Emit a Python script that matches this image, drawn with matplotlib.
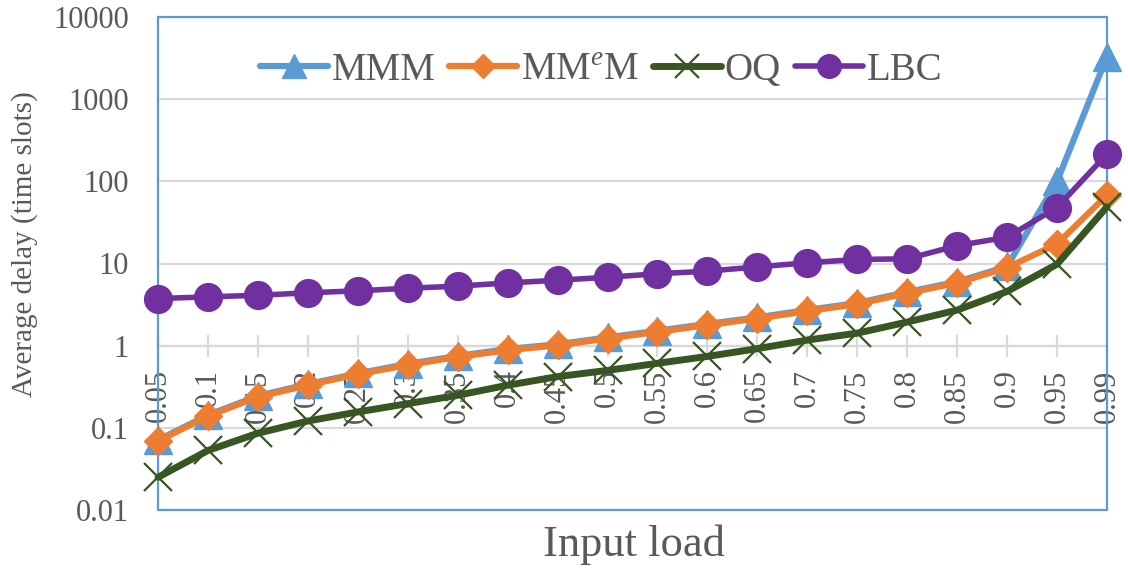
import numpy as np
import matplotlib
matplotlib.use("Agg")
import matplotlib.pyplot as plt
from matplotlib.patches import Rectangle

# ---- data ----
loads = ['0.05', '0.1', '0.15', '0.2', '0.25', '0.3', '0.35', '0.4', '0.45', '0.5',
         '0.55', '0.6', '0.65', '0.7', '0.75', '0.8', '0.85', '0.9', '0.95', '0.99']
mmm = [0.071, 0.143, 0.245, 0.34, 0.46, 0.60, 0.75, 0.91, 1.04, 1.26,
       1.52, 1.84, 2.21, 2.72, 3.3, 4.5, 6.0, 9.2, 100, 3300]
mmem = [0.069, 0.139, 0.238, 0.33, 0.45, 0.58, 0.73, 0.88, 1.01, 1.22,
        1.47, 1.78, 2.14, 2.63, 3.2, 4.36, 5.8, 8.9, 17.3, 68]
oq = [0.025, 0.053, 0.086, 0.121, 0.156, 0.197, 0.249, 0.33, 0.42, 0.50,
      0.61, 0.74, 0.92, 1.17, 1.42, 1.94, 2.71, 4.57, 9.8, 49]
lbc = [3.74, 3.93, 4.1, 4.4, 4.65, 5.0, 5.3, 5.8, 6.26, 6.8,
       7.5, 8.06, 9.1, 10.2, 11.2, 11.4, 16.5, 20.9, 48, 215]
series_names = ['MMM', 'MM$^{e}$M', 'OQ', 'LBC']
y_ticks = [0.01, 0.1, 1, 10, 100, 1000, 10000]
y_ticklabels = ['0.01', '0.1', '1', '10', '100', '1000', '10000']

plt.rcParams['font.family'] = ['Liberation Serif', 'DejaVu Serif']
plt.rcParams['mathtext.fontset'] = 'custom'
plt.rcParams['mathtext.rm'] = 'Liberation Serif'
plt.rcParams['mathtext.it'] = 'Liberation Serif:italic'

TXT = '#595959'
GRID = '#D9D9D9'
BLUE = '#5B9BD5'
ORANGE = '#ED7D31'
GREEN = '#375623'
PURPLE = '#7030A0'

fig = plt.figure(figsize=(11.28, 5.73), dpi=100)
ax = fig.add_axes([158/1128, 63/573, (1107-158)/1128, (510-17)/573])

x = np.arange(len(loads))
ax.set_yscale('log')
ax.set_ylim(0.01, 10000)
ax.set_xlim(0, len(loads) - 1)
ax.set_axisbelow(True)

ax.plot(x, mmm, color=BLUE, lw=4.5, marker='^', ms=20, mec=BLUE, mfc=BLUE,
        label=series_names[0], clip_on=False, zorder=3, solid_capstyle='round')
ax.plot(x, mmem, color=ORANGE, lw=4.5, marker='D', ms=14.5, mec=ORANGE, mfc=ORANGE,
        label=series_names[1], clip_on=False, zorder=3.1, solid_capstyle='round')
ax.plot(x, oq, color=GREEN, lw=5, marker='x', ms=20, mew=1.6, mec=GREEN,
        label=series_names[2], clip_on=False, zorder=3.2, solid_capstyle='round')
ax.plot(x, lbc, color=PURPLE, lw=4, marker='o', ms=20, mec=PURPLE, mfc=PURPLE,
        label=series_names[3], clip_on=False, zorder=3.3, solid_capstyle='round')

# y axis
ax.set_yticks(y_ticks)
ax.set_yticklabels(y_ticklabels)
ax.yaxis.set_minor_locator(matplotlib.ticker.NullLocator())
ax.tick_params(axis='y', length=0, pad=21, labelsize=22, labelcolor=TXT)
ax.yaxis.grid(True, color=GRID, lw=1.6)

# x axis crossing at 1
ax.set_xticks(x)
ax.set_xticklabels(loads)
for s in ['left', 'right', 'top']:
    ax.spines[s].set_visible(False)
ax.spines['bottom'].set_position(('data', 1))
ax.spines['bottom'].set_color(GRID)
ax.spines['bottom'].set_linewidth(1.6)
ax.spines['bottom'].set_zorder(1)
ax.tick_params(axis='x', direction='inout', length=16, width=1.6, color=GRID,
               pad=9, labelsize=22, labelcolor=TXT, labelrotation=90)

# plot area border
ax.add_patch(Rectangle((0, 0), 1, 1, transform=ax.transAxes, fill=False,
                       ec=BLUE, lw=1.6, clip_on=False, zorder=1.5))

fig.text(25/1128, 1 - 244/573, 'Average delay (time slots)', rotation=90,
         ha='center', va='center', fontsize=21, color=TXT)
fig.text(634/1128, 1 - 545/573, 'Input load', ha='center', va='center',
         fontsize=32, color=TXT)

leg = ax.legend(loc='center', bbox_to_anchor=(601/1128, 1 - 70/573),
                bbox_transform=fig.transFigure, ncol=4, frameon=False,
                fontsize=28, handlelength=1.75, handletextpad=0.1,
                columnspacing=0.35, markerscale=0.85, borderpad=0)
for t in leg.get_texts():
    t.set_color(TXT)

fig.savefig('out.png', dpi=100)
